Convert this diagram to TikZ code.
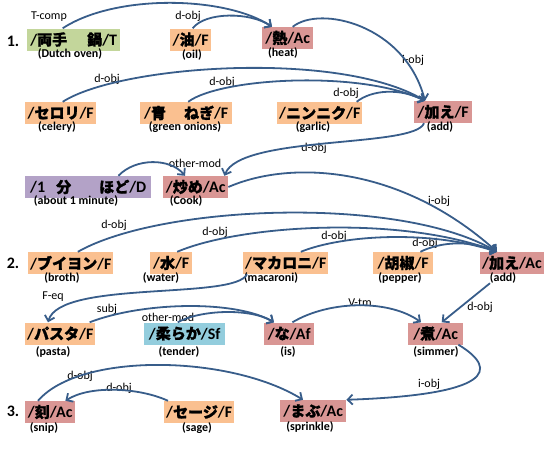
\documentclass[tikz,border=0pt]{standalone}
\usepackage{fontspec}
\setmainfont{Carlito}
\newfontfamily\jpfont{Noto Sans CJK JP}[Scale=0.94,FakeBold=1.2]
\newcommand\ja[1]{{\jpfont #1}}
\usetikzlibrary{positioning,arrows.meta}
\definecolor{depblue}{RGB}{56,93,138}
\definecolor{tgreen}{HTML}{C3D69B}
\definecolor{forange}{HTML}{FAC090}
\definecolor{acred}{HTML}{D99694}
\definecolor{dpurple}{HTML}{B3A2C7}
\definecolor{sfblue}{HTML}{93CDDD}
\tikzset{
  wrd/.style={anchor=west, inner xsep=2pt, inner ysep=0pt, minimum height=22pt,
    font=\bfseries\fontsize{16}{16}\selectfont},
  gl/.style={inner sep=0pt, font=\bfseries\fontsize{12}{12}\selectfont},
  rel/.style={inner sep=0pt, font=\fontsize{12}{12}\selectfont},
  num/.style={inner sep=0pt, font=\bfseries\fontsize{16}{16}\selectfont},
  dep/.style={draw=depblue, line width=1.8pt, -{Straight Barb[length=5pt,width=10pt]}},
}

\begin{document}
\begin{tikzpicture}[x=1pt, y=-1pt]
  \useasboundingbox (0,0) rectangle (544,450);

  % sentence 1
  \node[num] (n1) at (13,41) {1.};
  \node[wrd, fill=tgreen, minimum width=93pt] (dutch) at (27,39.5) {/\ja{両手\hspace{20pt}鍋}/T};
  \node[wrd, fill=forange, minimum width=41pt] (oil) at (170,39.5) {/\ja{油}/F};
  \node[wrd, fill=acred, minimum width=51pt] (heat) at (262,38) {/\ja{熱}/Ac};

  \node[wrd, fill=forange, minimum width=71pt] (celery) at (25,113) {/\ja{セロリ}/F};
  \node[wrd, fill=forange, minimum width=92pt] (negi) at (140,113) {/\ja{青\hspace{18pt}ねぎ}/F};
  \node[wrd, fill=forange, minimum width=84pt] (garlic) at (277,113) {/\ja{ニンニク}/F};
  \node[wrd, fill=acred, minimum width=58pt] (addf) at (414,112) {/\ja{加え}/F};

  \node[wrd, fill=dpurple, minimum width=126pt] (ippun) at (25,187) {/1\hspace{11pt}\ja{分}\hspace{28pt}\ja{ほど}/D};
  \node[wrd, fill=acred, minimum width=65pt] (itame) at (163,187) {/\ja{炒め}/Ac};

  % sentence 2
  \node[num] (n2) at (13,263) {2.};
  \node[wrd, fill=forange, minimum width=65pt] (broth) at (28,263) {/\ja{ブイヨン}/F};
  \node[wrd, fill=forange, minimum width=42pt] (water) at (150,263) {/\ja{水}/F};
  \node[wrd, fill=forange, minimum width=80pt] (macaroni) at (243,263) {/\ja{マカロニ}/F};
  \node[wrd, fill=forange, minimum width=60pt] (pepper) at (373,263) {/\ja{胡椒}/F};
  \node[wrd, fill=acred, minimum width=60pt] (addac) at (480,263) {/\ja{加え}/Ac};

  \node[wrd, fill=forange, minimum width=68pt] (pasta) at (25,333.5) {/\ja{パスタ}/F};
  \node[wrd, fill=sfblue, minimum width=81pt] (tender) at (144,333.5) {/\ja{柔らか}/Sf};
  \node[wrd, fill=acred, minimum width=50pt] (na) at (264,333.5) {/\ja{な}/Af};
  \node[wrd, fill=acred, minimum width=55pt] (simmer) at (408,333.5) {/\ja{煮}/Ac};

  % sentence 3
  \node[num] (n3) at (13,411) {3.};
  \node[wrd, fill=acred, minimum width=50pt] (snip) at (25,412) {/\ja{刻}/Ac};
  \node[wrd, fill=forange, minimum width=67pt] (sage) at (164,412) {/\ja{セージ}/F};
  \node[wrd, fill=acred, minimum width=66pt] (mabu) at (280,411) {/\ja{まぶ}/Ac};

  % glosses
  \node[gl] (dutch_g) at (70,54) {(Dutch oven)};
  \node[gl] (oil_g) at (192,55) {(oil)};
  \node[gl] (heat_g) at (283,53) {(heat)};
  \node[gl] (celery_g) at (57,127) {(celery)};
  \node[gl] (negi_g) at (185,127) {(green onions)};
  \node[gl] (garlic_g) at (313,127) {(garlic)};
  \node[gl] (addf_g) at (440,127) {(add)};
  \node[gl] (ippun_g) at (76,201) {(about 1 minute)};
  \node[gl] (itame_g) at (186,201) {(Cook)};
  \node[gl] (broth_g) at (62,278) {(broth)};
  \node[gl] (water_g) at (161,278) {(water)};
  \node[gl] (macaroni_g) at (271,278) {(macaroni)};
  \node[gl] (pepper_g) at (400,278) {(pepper)};
  \node[gl] (addac_g) at (503,278) {(add)};
  \node[gl] (pasta_g) at (53,352) {(pasta)};
  \node[gl] (tender_g) at (179,352) {(tender)};
  \node[gl] (na_g) at (288,352) {(is)};
  \node[gl] (simmer_g) at (436,352) {(simmer)};
  \node[gl] (snip_g) at (44,428) {(snip)};
  \node[gl] (sage_g) at (197,428) {(sage)};
  \node[gl] (mabu_g) at (310,427) {(sprinkle)};

  % relation labels
  \node[rel] (l_tcomp) at (49,17) {T-comp};
  \node[rel] (l_oil) at (188,16) {d-obj};
  \node[rel] (l_heat) at (413,60) {i-obj};
  \node[rel] (l_celery) at (107,79) {d-obj};
  \node[rel] (l_negi) at (222,82) {d-obj};
  \node[rel] (l_garlic) at (346,93) {d-obj};
  \node[rel] (l_addf) at (314,148) {d-obj};
  \node[rel] (l_ippun) at (195,163) {other-mod};
  \node[rel] (l_itame) at (439,201) {i-obj};
  \node[rel] (l_broth) at (114,225) {d-obj};
  \node[rel] (l_water) at (215,232) {d-obj};
  \node[rel] (l_macaroni) at (334,236) {d-obj};
  \node[rel] (l_pepper) at (425,243) {d-obj};
  \node[rel] (l_feq) at (53,297) {F-eq};
  \node[rel] (l_subj) at (107,309) {subj};
  \node[rel] (l_tender) at (168,317) {other-mod};
  \node[rel] (l_vtm) at (360,303) {V-tm};
  \node[rel] (l_addac) at (480,307) {d-obj};
  \node[rel] (l_simmer) at (429,384) {i-obj};
  \node[rel] (l_snip) at (80,376) {d-obj};
  \node[rel] (l_sage) at (119,388) {d-obj};

  % dependencies
  \draw[dep] ([xshift=-11pt]dutch.north) .. controls +(52.5,-34.5) and +(-47,-31) .. ([xshift=10pt]heat.north west);
  \draw[dep] ([xshift=2pt]oil.north) .. controls +(12.5,-16.5) and +(-22,-15) .. ([xshift=10pt]heat.north west);
  \draw[dep] ([xshift=5pt]heat.north) .. controls +(27.5,-22) and +(-20,-76) .. ([xshift=11pt]addf.north west);
  \draw[dep] ([xshift=2pt]celery.north) .. controls +(57.5,-37) and +(-85,-51) .. ([xshift=11pt]addf.north west);
  \draw[dep] ([xshift=2pt]negi.north) .. controls +(32,-24) and +(-65,-31) .. ([xshift=11pt]addf.north west);
  \draw[dep] ([xshift=-6pt]garlic.north east) .. controls +(15,-12) and +(-25,-13) .. ([xshift=11pt]addf.north west);
  \draw[dep] ([xshift=10pt]addf.south west) .. controls +(-9,25) and +(16,-41) .. ([xshift=-4pt]itame.north east);
  \draw[dep] ([xshift=-33pt]ippun.north east) .. controls +(17,-18) and +(-15,-18) .. ([xshift=22pt]itame.north west);
  \draw[dep] (itame.east) .. controls +(62,-27) and +(-97,-87) .. ([xshift=17pt]addac.north west);

  \draw[dep] ([xshift=7pt]broth.north) .. controls +(82.5,-47) and +(-97,-57) .. ([xshift=17pt]addac.north west);
  \draw[dep] ([xshift=6pt]water.north) .. controls +(63,-27) and +(-97,-37) .. ([xshift=17pt]addac.north west);
  \draw[dep] ([xshift=15pt]macaroni.north) .. controls +(42,-17) and +(-67,-22) .. ([xshift=17pt]addac.north west);
  \draw[dep] ([xshift=-13pt]pepper.north east) .. controls +(20,-10) and +(-27,-12) .. ([xshift=17pt]addac.north west);
  \draw[dep] ([xshift=4pt]macaroni.south west) .. controls +(-12,26) and +(12,-42.5) .. ([xshift=23pt]pasta.north west);
  \draw[dep] ([xshift=-6pt]pasta.north east) .. controls +(53,-20.5) and +(-39,-22.5) .. ([xshift=10pt]na.north west);
  \draw[dep] ([xshift=-7pt]tender.north) .. controls +(22.5,-12.5) and +(-24,-14.5) .. ([xshift=10pt]na.north west);
  \draw[dep] ([xshift=-22pt]na.north east) .. controls +(38,-22.5) and +(-31,-22.5) .. ([xshift=13pt]simmer.north west);
  \draw[dep] ([shift={(10pt,-9pt)}]addac.south west) -- ([xshift=6pt]simmer.north);
  \draw[dep] ([xshift=-5pt]simmer.south east) .. controls +(42,25.5) and +(144,-5) .. (mabu.north east);

  \draw[dep] ([xshift=13pt]snip.north west) .. controls +(42,-49) and +(-73,-45) .. ([xshift=23pt]mabu.north west);
  \draw[dep] ([xshift=4pt]sage.north west) .. controls +(-28,-13) and +(25,-16) .. ([xshift=-10pt]snip.north east);
\end{tikzpicture}
\end{document}
